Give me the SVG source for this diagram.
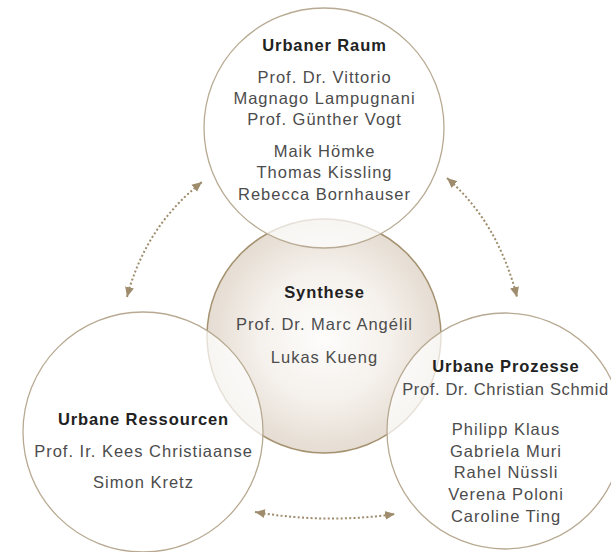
<svg xmlns="http://www.w3.org/2000/svg" width="611" height="552" viewBox="0 0 611 552">
<defs>
<radialGradient id="synthGrad" cx="50%" cy="50%" r="50%">
<stop offset="0" stop-color="#fefdfc"/>
<stop offset="0.55" stop-color="#f5f1ec"/>
<stop offset="1" stop-color="#e5dcd2"/>
</radialGradient>
<marker id="ah" viewBox="0 0 10 10" refX="10" refY="5" markerWidth="10" markerHeight="10" markerUnits="userSpaceOnUse" orient="auto-start-reverse">
<path d="M0,0.5 L10,5 L0,9.5 Z" fill="#9e8c6c"/>
</marker>
<style>
.title{font-family:"Liberation Sans",Arial,sans-serif;font-size:16.5px;font-weight:bold;fill:#222;letter-spacing:0.9px;text-anchor:middle}
.name{font-family:"Liberation Sans",Arial,sans-serif;font-size:16.5px;fill:#4c4c4c;letter-spacing:1px;text-anchor:middle}
.tight{letter-spacing:0.65px}
.outer{fill:#ffffff;fill-opacity:0.72;stroke:#b8aa92;stroke-width:1.3}
.synth{fill:url(#synthGrad);stroke:#a4916f;stroke-width:1.5}
.arrow{fill:none;stroke:#9e8c6c;stroke-width:2;stroke-dasharray:2 2.3;marker-start:url(#ah);marker-end:url(#ah)}
</style>
</defs>
<rect width="611" height="552" fill="#ffffff"/>
<g id="synthese">
<circle class="synth" cx="324" cy="336" r="117"/>
</g>
<g id="urbaner-raum">
<circle class="outer" cx="324" cy="128" r="120"/>
</g>
<g id="urbane-ressourcen">
<circle class="outer" cx="143" cy="432" r="120"/>
</g>
<g id="urbane-prozesse">
<circle class="outer" cx="505" cy="431" r="118"/>
</g>
<g id="labels-raum">
<text class="title" x="324.5" y="50.7">Urbaner Raum</text>
<text class="name" x="324.5" y="83.3">Prof. Dr. Vittorio</text>
<text class="name" x="324.5" y="104.3">Magnago Lampugnani</text>
<text class="name" x="324.5" y="125">Prof. Günther Vogt</text>
<text class="name" x="324.5" y="156.7">Maik Hömke</text>
<text class="name" x="324.5" y="178.3">Thomas Kissling</text>
<text class="name" x="324.5" y="200">Rebecca Bornhauser</text>
</g>
<g id="labels-synthese">
<text class="title" x="324.5" y="298">Synthese</text>
<text class="name" x="324.5" y="330">Prof. Dr. Marc Angélil</text>
<text class="name" x="324.5" y="362.7">Lukas Kueng</text>
</g>
<g id="labels-ressourcen">
<text class="title" x="143.5" y="425">Urbane Ressourcen</text>
<text class="name" x="143.5" y="456.7">Prof. Ir. Kees Christiaanse</text>
<text class="name" x="143.5" y="488">Simon Kretz</text>
</g>
<g id="labels-prozesse">
<text class="title" x="506" y="371.7">Urbane Prozesse</text>
<text class="name tight" x="505.5" y="395">Prof. Dr. Christian Schmid</text>
<text class="name" x="506" y="435">Philipp Klaus</text>
<text class="name" x="506" y="456.7">Gabriela Muri</text>
<text class="name" x="506" y="478.3">Rahel Nüssli</text>
<text class="name" x="506" y="500">Verena Poloni</text>
<text class="name" x="506" y="521.7">Caroline Ting</text>
</g>
<g id="connectors">
<path class="arrow" d="M127,297 Q145.5,226.5 202,182"/>
<path class="arrow" d="M447,178 Q498,222.5 517,297"/>
<path class="arrow" d="M255,512 Q325,524 395,514"/>
</g>
</svg>
